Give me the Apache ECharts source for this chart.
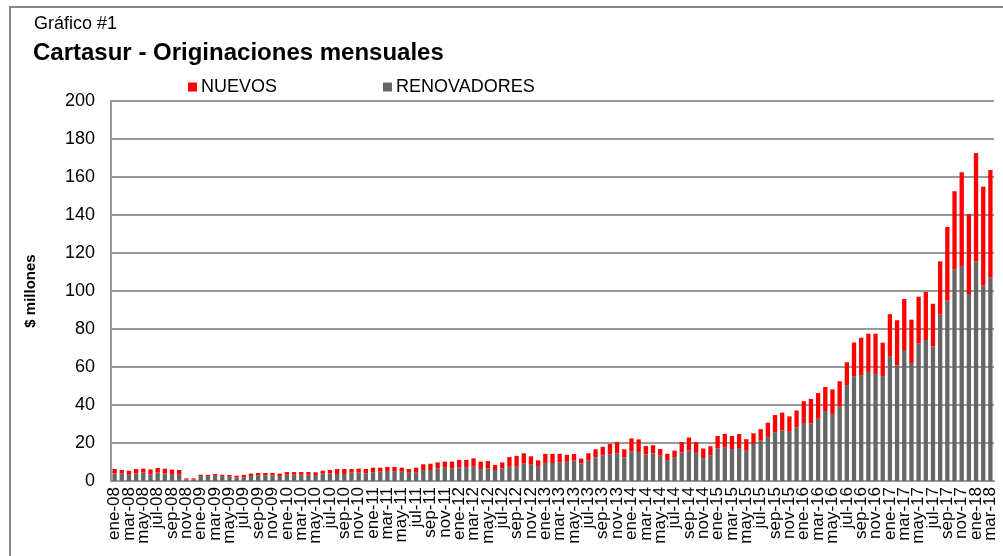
<!DOCTYPE html>
<html>
<head>
<meta charset="utf-8">
<script src="https://cdn.jsdelivr.net/npm/echarts@6/dist/echarts.min.js"></script>
<style>
  html, body { margin: 0; padding: 0; background: #fff; }
  #chart { width: 1003px; height: 556px; }
</style>
</head>
<body>
<div id="chart"></div>
<script>
// meses ene-08 .. mar-18
const meses = ['ene', 'feb', 'mar', 'abr', 'may', 'jun', 'jul', 'ago', 'sep', 'oct', 'nov', 'dic'];
const anios = ['08', '09', '10', '11', '12', '13', '14', '15', '16', '17', '18'];
const categorias = [];
anios.forEach(function (a) {
    meses.forEach(function (m) {
        if (categorias.length < 123) categorias.push(m + '-' + a);
    });
});

// $ millones
const renovadores = [
    4.0, 4.0, 3.3, 4.0, 4.4, 3.5, 4.4, 4.0, 3.3, 3.3, 0.8, 0.8,
    2.6, 2.6, 2.8, 2.6, 2.3, 1.9, 1.9, 2.6, 3.0, 3.0, 3.0, 2.6,
    3.3, 3.3, 3.3, 3.3, 3.2, 3.9, 4.0, 3.7, 3.7, 4.4, 4.4, 4.0,
    4.6, 4.9, 5.3, 4.9, 4.9, 4.4, 4.4, 5.8, 5.8, 6.7, 7.0, 6.7,
    7.2, 7.4, 7.5, 6.3, 6.7, 5.8, 6.7, 7.5, 7.5, 9.1, 8.6, 7.5,
    9.5, 9.5, 9.8, 10.1, 10.7, 9.3, 10.8, 12.5, 13.5, 13.9, 14.5, 12.5,
    15.6, 15.3, 14.0, 14.6, 13.3, 11.0, 12.6, 15.1, 16.0, 14.8, 12.0, 13.6,
    17.1, 17.8, 16.8, 17.3, 15.9, 19.5, 21.3, 23.2, 25.7, 26.6, 25.9, 28.3,
    30.5, 30.3, 32.8, 36.8, 35.3, 39.1, 50.5, 55.2, 55.7, 57.4, 56.3, 55.2,
    65.4, 60.9, 68.9, 62.1, 72.5, 74.2, 70.8, 87.6, 94.9, 111.4, 113.2, 98.4,
    115.6, 102.8, 107.0
];
const nuevos = [
    2.3, 1.8, 2.1, 2.3, 2.1, 2.6, 2.4, 2.5, 2.7, 2.5, 0.6, 0.6,
    0.7, 0.6, 0.9, 0.7, 0.9, 0.9, 1.3, 1.3, 1.2, 1.2, 1.2, 1.3,
    1.4, 1.4, 1.4, 1.4, 1.4, 1.5, 1.8, 2.6, 2.6, 1.9, 2.1, 2.3,
    2.4, 2.1, 2.1, 2.5, 2.1, 1.9, 2.6, 3.0, 3.3, 3.1, 3.2, 3.5,
    3.9, 3.7, 4.4, 3.9, 3.8, 2.6, 3.1, 5.1, 5.7, 5.5, 4.4, 3.4,
    4.8, 4.8, 4.5, 3.7, 3.5, 2.5, 3.8, 4.2, 4.5, 5.6, 6.0, 4.2,
    6.8, 6.6, 4.4, 4.2, 3.5, 3.3, 3.4, 5.4, 6.9, 5.7, 5.1, 4.7,
    6.6, 7.0, 6.9, 7.4, 6.1, 5.6, 6.0, 7.5, 9.0, 9.4, 8.1, 8.8,
    11.5, 12.9, 13.5, 12.7, 12.9, 13.4, 12.0, 17.7, 19.7, 20.1, 21.2, 17.6,
    22.4, 23.7, 26.9, 22.8, 24.5, 25.3, 22.5, 28.0, 38.8, 41.1, 49.3, 42.0,
    57.0, 52.1, 56.7
];

const chart = echarts.init(document.getElementById('chart'));
chart.setOption({
    animation: false,
    textStyle: { fontFamily: 'Liberation Sans, Arial, sans-serif', color: '#000' },
    graphic: [{
        type: 'rect',
        shape: { x: 10, y: 7, width: 1010, height: 570 },
        style: { fill: 'none', stroke: '#888', lineWidth: 2 },
        silent: true
    }],
    title: [{
        text: 'Gráfico #1',
        left: 29,
        top: 10,
        textStyle: { fontSize: 18, fontWeight: 'normal', color: '#000' }
    }, {
        text: 'Cartasur - Originaciones mensuales',
        left: 28,
        top: 36,
        textStyle: { fontSize: 24, fontWeight: 'bold', color: '#000' }
    }],
    legend: {
        left: 183,
        top: 73,
        itemWidth: 9,
        itemHeight: 9,
        itemGap: 106,
        icon: 'rect',
        data: ['NUEVOS', 'RENOVADORES'],
        textStyle: { fontSize: 18, color: '#000', padding: [0, 0, 0, -1] }
    },
    grid: {
        left: 111,
        right: 9,
        top: 101,
        bottom: 75
    },
    xAxis: {
        type: 'category',
        data: categorias,
        axisLine: { lineStyle: { color: '#999', width: 2 } },
        axisTick: { show: false },
        axisLabel: {
            // todas las etiquetas, pero solo se escribe un mes de cada dos
            interval: 0,
            formatter: function (value, index) {
                return index % 2 === 0 ? value : '';
            },
            rotate: 90,
            margin: 6,
            fontSize: 17,
            color: '#000'
        }
    },
    yAxis: {
        type: 'value',
        min: 0,
        max: 200,
        interval: 20,
        name: '$ millones',
        nameLocation: 'middle',
        nameGap: 73,
        nameTextStyle: { fontSize: 15, fontWeight: 'bold', color: '#000' },
        axisLine: { show: true, lineStyle: { color: '#999', width: 2 } },
        axisTick: { show: false },
        axisLabel: { fontSize: 18, color: '#000', margin: 16 },
        splitLine: { lineStyle: { color: '#999', width: 2 } }
    },
    series: [{
        name: 'RENOVADORES',
        type: 'bar',
        stack: 'total',
        barCategoryGap: '40%',
        itemStyle: { color: '#666666' },
        data: renovadores
    }, {
        name: 'NUEVOS',
        type: 'bar',
        stack: 'total',
        barCategoryGap: '40%',
        itemStyle: { color: '#ff0000' },
        data: nuevos
    }]
});
</script>
</body>
</html>
